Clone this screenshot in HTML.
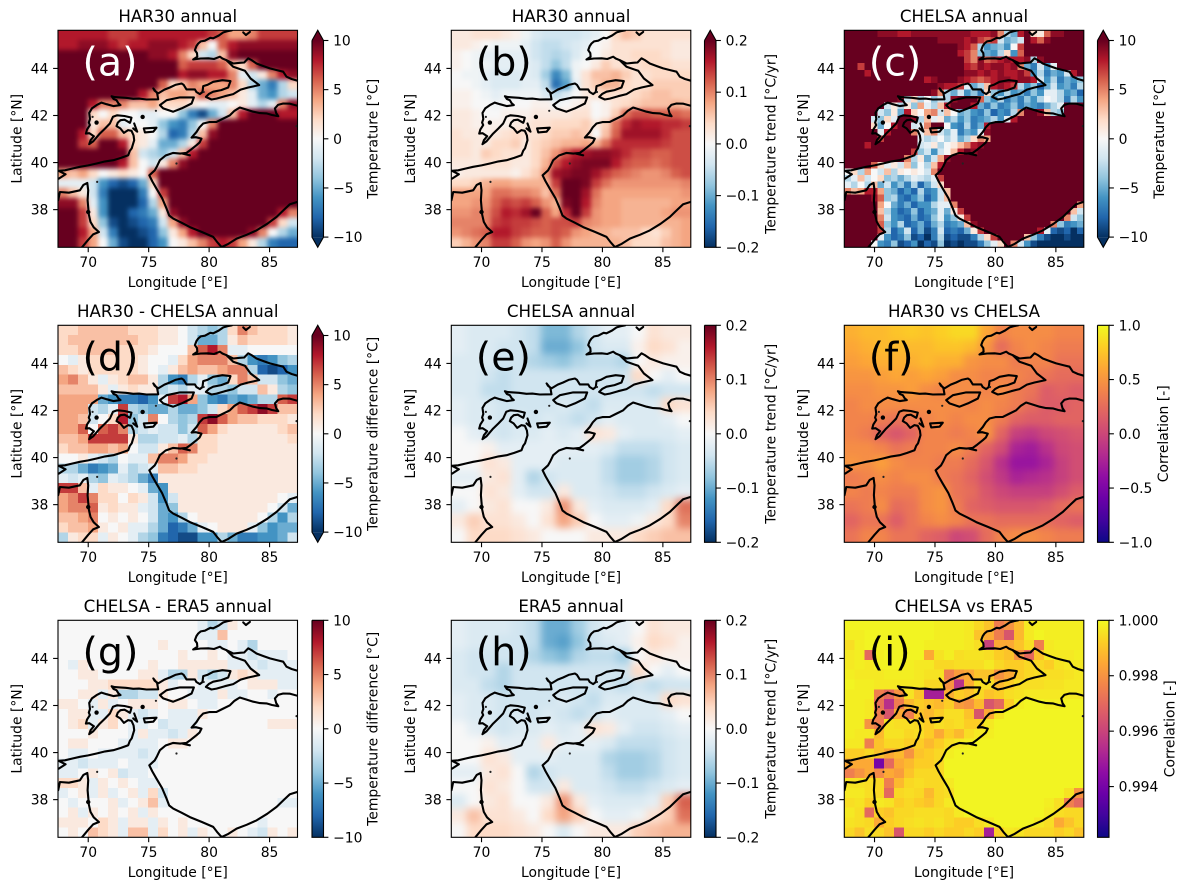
<!DOCTYPE html>
<html>
<head>
<meta charset="utf-8">
<title>Temperature maps</title>
<style>
html,body{margin:0;padding:0;background:#fff;}
svg{display:block;}
text{font-family:"DejaVu Sans","Liberation Sans",sans-serif;fill:#000;}
</style>
</head>
<body>
<svg id="figure" xmlns="http://www.w3.org/2000/svg" width="1187" height="890" viewBox="0 0 1187 890"></svg>
<script>
const lonTicks = [70, 75, 80, 85];
const latTicks = [38, 40, 42, 44];
const lonRange = [67.5, 87.31];
const latRange = [36.4, 45.62];

const tempTicks = [10, 5, 0, -5, -10];
const tempTickLabels = ['10', '5', '0', '−5', '−10'];
const trendTicks = [20, 10, 0, -10, -20];
const trendTickLabels = ['0.2', '0.1', '0.0', '−0.1', '−0.2'];
const corrTicks = [100, 50, 0, -50, -100];
const corrTickLabels = ['1.0', '0.5', '0.0', '−0.5', '−1.0'];
const deficitTicks = [0, 20, 40, 60];
const deficitTickLabels = ['1.000', '0.998', '0.996', '0.994'];

const har30Temp = [
[8,8,8,8,8,7,7,7,8,8,8,8,8,8,8,7,6,4,4,5,7,7,7,7],
[8,8,9,9,9,8,7,8,8,9,9,9,8,7,3,0,6,8,9,9,9,9,9,9],
[10,10,10,10,10,10,10,10,10,9,9,8,5,2,-2,-3,3,9,10,10,10,10,10,10],
[10,10,10,10,10,10,10,10,10,10,10,10,6,7,7,7,6,3,2,6,10,10,10,10],
[10,10,10,10,10,10,10,10,10,10,10,10,8,9,9,8,8,5,-1,-2,1,5,8,9],
[10,10,10,10,10,10,10,10,10,10,6,2,3,5,4,4,4,5,2,-3,-5,-7,-3,2],
[10,10,10,10,10,10,10,10,8,5,3,4,4,3,6,5,4,3,1,-1,-5,-6,-3,-2],
[10,10,10,8,5,5,5,3,3,4,2,2,2,1,0,-1,-1,0,1,-1,-3,-1,5,9],
[10,10,10,2,0,2,0,0,-1,-1,0,0,-4,-7,-9,-5,-2,3,8,10,10,10,8,8],
[10,10,10,1,3,3,-1,0,0,-1,-4,-6,-7,-4,0,5,10,10,10,10,10,10,10,10],
[10,10,8,2,6,6,3,2,1,0,-3,-8,-7,-3,3,9,10,10,10,10,10,10,10,10],
[10,10,7,6,10,10,8,2,1,-1,-5,-5,-3,1,7,10,10,10,10,10,10,10,10,10],
[10,10,10,10,10,10,10,3,-2,-3,-4,-2,3,8,10,10,10,10,10,10,10,10,10,10],
[10,10,10,10,10,10,8,3,0,-2,1,5,9,10,10,10,10,10,10,10,10,10,10,10],
[4,3,4,2,0,1,2,1,0,6,10,10,10,10,10,10,10,10,10,10,10,10,10,10],
[-1,-1,-1,-2,-6,-8,-9,-8,-5,2,10,10,10,10,10,10,10,10,10,10,10,10,10,10],
[5,3,1,-2,-7,-10,-10,-10,-7,0,7,10,10,10,10,10,10,10,10,10,10,10,10,10],
[9,9,5,-1,-6,-10,-10,-10,-8,-3,4,10,10,10,10,10,10,10,10,10,10,10,10,10],
[10,10,7,1,-6,-10,-10,-8,-7,-5,1,9,10,10,10,10,10,10,10,10,10,10,8,5],
[10,10,7,2,-4,-9,-10,-9,-8,-7,-2,4,9,10,10,10,10,10,10,10,10,7,2,-2],
[10,10,8,4,-2,-7,-10,-10,-9,-8,-4,1,4,8,10,10,10,10,10,9,5,0,-3,-5],
[10,10,7,4,0,-5,-9,-10,-10,-8,-6,0,1,3,5,7,8,7,4,1,-3,-7,-8,-8]
];

const har30Trend = [
[2,2,3,3,3,2,1,-1,-3,-4,-4,-4,-4,-3,-2,0,4,6,5,3,3,3,3,3],
[2,2,1,0,-1,-1,-1,-2,-4,-5,-5,-4,-3,-2,0,1,3,3,3,3,3,3,2,2],
[1,0,-1,-2,-2,-2,-2,-2,-4,-5,-6,-5,-3,-1,0,2,3,3,4,4,4,3,2,2],
[1,0,-1,-1,-2,-2,-2,-2,-3,-5,-8,-5,-1,0,2,5,3,3,3,4,4,4,3,3],
[0,-1,-1,-2,-3,-3,-3,-2,-3,-7,-13,-9,-1,3,6,6,7,5,3,3,4,4,4,4],
[0,0,-1,-2,-3,-3,-3,-2,-2,-5,-15,-11,-2,3,5,7,7,4,3,3,5,5,5,5],
[1,1,0,-1,-2,-1,-1,-1,-1,-3,-5,-3,0,2,3,4,3,3,4,5,6,6,5,5],
[1,1,0,0,-1,0,0,0,1,1,-1,0,1,2,0,1,3,4,5,6,6,6,7,6],
[2,2,1,0,0,1,1,1,2,2,2,2,3,3,0,1,5,11,13,13,12,12,12,11],
[2,2,1,1,1,1,2,2,3,3,4,4,4,5,2,5,11,15,17,16,16,15,15,14],
[3,2,2,1,2,3,4,3,3,4,5,5,6,5,0,6,12,17,17,17,17,15,13,13],
[3,3,2,2,4,4,5,2,4,5,6,7,7,8,7,11,15,15,15,15,15,14,13,13],
[3,3,2,5,4,3,3,2,4,6,9,13,16,17,18,18,17,15,13,13,12,12,13,13],
[2,2,2,3,3,3,2,2,4,7,13,16,18,19,19,19,16,13,12,12,11,12,13,13],
[1,2,2,2,2,2,1,3,5,9,17,18,19,19,17,14,12,11,10,9,9,10,12,13],
[4,4,5,7,8,8,7,7,7,7,14,20,21,19,14,11,9,9,9,9,9,9,9,10],
[8,8,8,8,11,11,10,10,9,6,11,20,22,17,11,8,8,8,8,8,8,8,8,9],
[8,8,9,9,12,14,13,14,12,9,7,19,22,16,10,8,8,7,7,7,7,7,8,8],
[9,9,10,10,13,16,15,17,20,12,8,15,20,14,9,8,8,7,7,7,7,8,9,9],
[10,10,10,10,14,15,14,14,13,12,13,13,14,10,9,8,8,7,7,7,7,7,7,8],
[9,10,11,12,16,16,14,13,12,12,13,12,9,8,7,7,6,6,6,4,3,5,7,8],
[5,7,9,10,14,14,12,9,8,9,12,9,7,7,7,7,7,6,4,4,4,6,7,8]
];

const chelsaTemp = [
[10,10,10,10,10,9,9,9,8,8,9,9,9,9,9,9,9,9,9,8,8,8,9,5,-3,-5,8,10,2,1,6,9,9,10,10,10],
[10,10,10,10,10,10,10,10,10,10,10,10,10,10,9,9,9,9,8,9,7,6,7,-2,-5,-4,-2,10,8,6,9,10,10,10,10,10],
[10,10,10,10,10,10,10,10,10,10,10,10,10,10,10,10,10,9,8,6,-3,-6,-5,-4,-6,0,7,10,10,10,10,10,10,10,10,10],
[10,10,10,10,10,10,10,10,10,10,10,10,10,10,10,10,10,8,7,5,-4,-5,-6,-3,2,-6,6,10,10,10,10,10,10,10,10,10],
[10,10,10,10,10,10,10,10,10,10,10,10,10,10,10,10,10,10,7,5,9,6,7,8,9,8,8,9,-3,9,10,10,10,10,10,10],
[10,10,7,10,10,10,10,10,10,10,10,10,10,10,10,10,10,10,8,7,9,8,9,9,8,9,5,-5,-7,-2,-6,-1,10,10,10,10],
[10,10,10,8,10,10,10,10,10,10,10,10,10,10,10,10,10,10,9,9,8,9,8,9,8,8,9,7,-6,-3,-7,-5,-6,-2,8,10],
[10,10,10,10,10,10,10,10,10,10,10,10,8,9,10,10,10,9,8,7,6,7,8,9,9,8,9,9,8,-2,-6,-3,-7,-5,-6,-4],
[10,10,10,10,10,10,10,10,10,10,10,10,10,10,9,8,8,7,-1,-5,-3,3,8,9,8,7,-3,-6,-4,-8,-5,-2,-6,-5,-7,-3],
[10,10,10,10,10,10,10,10,10,10,10,10,10,9,5,-3,-5,-2,-6,-4,-7,2,-4,-6,-3,-6,-5,-7,-4,-6,-1,-1,-3,-6,-5,-8],
[10,10,10,10,10,10,10,10,9,-2,2,-3,0,-4,-2,-3,9,10,10,10,6,-4,-6,-3,-7,-5,-7,-4,-6,-3,0,-1,-3,-7,-3,-6],
[10,10,10,10,10,10,-2,1,-3,1,-4,4,-1,-3,3,8,10,10,10,8,-5,-7,-4,-7,-6,-4,-7,-5,-6,-7,-5,-3,-1,10,10,10],
[10,10,10,10,10,-2,-4,1,-5,8,2,0,4,5,-2,3,0,-5,-4,-6,-7,-4,-8,-6,-7,-3,5,10,10,9,3,-3,-4,10,10,10],
[10,10,10,10,-2,-4,2,-1,10,10,9,-3,3,-1,1,-5,-3,-6,-4,-7,-6,-5,-3,-6,-1,8,10,10,10,10,10,10,10,10,10,10],
[10,10,10,10,2,-5,0,8,10,10,-2,-1,5,10,10,0,-6,-7,-3,-7,-5,8,10,10,10,10,10,10,10,10,10,10,10,10,10,10],
[10,10,10,10,10,-1,8,10,10,10,5,-1,3,5,-2,-4,-1,-7,-5,-6,-1,9,10,10,10,10,10,10,10,10,10,10,10,10,10,10],
[10,10,10,10,10,7,10,10,10,10,10,-1,-3,-2,0,-3,-1,-5,-3,2,5,4,10,10,10,10,10,10,10,10,10,10,10,10,10,10],
[10,10,10,8,10,10,10,10,10,10,10,-2,-1,1,-3,0,1,3,5,8,9,10,10,10,10,10,10,10,10,10,10,10,10,10,10,10],
[10,10,10,10,10,10,10,10,10,10,7,-4,-2,-6,-2,0,3,8,10,9,10,10,10,10,10,10,10,10,10,10,10,10,10,10,10,10],
[10,10,10,10,10,10,10,10,10,5,-3,1,-5,-2,4,9,10,10,10,10,10,10,10,10,10,10,10,10,10,10,10,10,10,10,10,10],
[10,10,10,10,6,2,-1,1,-2,3,-4,0,-3,3,8,10,10,10,10,10,10,10,10,10,10,10,10,10,10,10,10,10,10,10,10,10],
[0,2,-3,4,0,-2,3,-3,1,0,1,0,-2,5,10,10,10,10,10,10,10,10,10,10,10,10,10,10,10,10,10,10,10,10,10,10],
[-3,-1,3,-2,0,2,-4,-3,-5,-3,-1,-2,-3,-1,7,10,10,10,10,10,10,10,10,10,10,10,10,10,10,10,10,10,10,10,10,10],
[-1,-3,0,-3,3,-5,-2,-6,-4,-7,-3,-8,-5,-2,2,10,10,10,10,10,10,10,10,10,10,10,10,10,10,10,10,10,10,10,10,10],
[5,3,4,8,8,4,-4,-5,-8,-6,-8,-3,-7,-6,-2,3,10,10,10,10,10,10,10,10,10,10,10,10,10,10,10,10,10,10,10,10],
[10,10,10,10,9,6,-4,-3,-7,-8,-6,-4,-8,-6,-2,3,10,10,10,10,10,10,10,10,10,10,10,10,10,10,10,10,10,10,10,10],
[10,10,10,10,10,4,0,-5,-7,-5,-8,-6,-6,-3,-1,-1,5,10,10,10,10,10,10,10,10,10,10,10,10,10,10,10,10,10,10,4],
[10,10,10,10,10,3,-3,-6,-8,-7,-4,-8,-6,-5,-1,-5,1,7,10,10,10,10,10,10,10,10,10,10,10,10,10,10,10,10,3,-2],
[10,10,10,10,10,5,-2,-6,-7,-8,-5,-8,-7,-4,-1,-6,-4,1,7,10,10,10,10,10,10,10,10,10,10,10,10,10,10,5,-2,-4],
[10,10,10,10,10,6,-4,-6,-3,-8,-7,-5,-8,-5,-3,-7,-6,-5,3,9,10,10,10,10,10,10,10,10,10,10,10,5,-4,-7,-6,-5],
[10,10,10,10,10,7,-3,-8,-6,-2,-8,-5,-9,-7,-2,-8,-7,-8,-5,1,7,10,10,10,10,10,10,10,10,8,-1,-8,-9,-8,-10,-8],
[10,10,10,10,10,-1,-6,-8,-7,-4,-9,-8,-10,-7,-3,-9,-8,-9,-9,-7,-3,2,7,10,10,10,10,3,-4,-7,-9,-10,-10,-9,-10,-10],
[10,10,10,10,0,-6,-7,-4,-9,-8,-6,-10,-8,-9,-4,-10,-9,-10,-9,-9,-7,-4,-1,2,10,5,-2,-6,-9,-10,-10,-10,-10,-10,-10,-10]
];

const har30MinusChelsa = [
[2,2,3,3,3,3,3,2,2,2,1,1,0,-2,-3,-4,-3,2,5,3,2,2,2,1],
[2,3,3,3,3,3,3,3,2,2,1,1,0,-2,-5,-5,-3,1,3,2,2,2,2,1],
[2,2,3,3,3,3,2,2,2,1,0,0,0,3,6,8,5,-1,-1,0,0,0,0,0],
[0,-1,1,2,2,2,2,2,1,0,0,-1,2,4,5,5,5,3,-3,-6,-7,-6,-4,-3],
[3,2,1,2,2,2,2,2,1,0,-1,1,3,4,3,3,4,5,5,-3,-8,-9,-8,-6],
[4,5,3,1,-1,1,2,3,3,1,-3,-6,-7,-3,-1,-4,-5,2,5,3,-2,-2,-4,-5],
[3,3,3,3,1,-1,1,2,1,1,-3,-2,-3,-1,-1,-3,-3,-4,-2,-2,3,1,-3,-4],
[4,4,4,4,-5,-6,-7,-7,-8,-6,-1,7,8,4,-4,-6,-7,-5,-6,-5,-3,-3,6,7],
[4,4,4,-2,-3,-1,7,-3,-4,-5,-5,-3,-5,-5,-4,-2,2,4,6,7,9,7,3,3],
[4,4,3,-2,0,2,8,-4,-2,5,0,-3,-4,-3,7,9,6,4,3,3,2,2,2,1],
[4,4,6,0,6,7,5,-3,-2,-1,-2,-2,-4,-2,6,4,2,1,1,1,1,1,2,3],
[3,3,4,7,7,7,7,1,-3,-3,-2,-2,-1,-3,2,2,1,1,1,1,1,1,1,2],
[2,3,3,4,4,3,4,0,-2,-2,1,3,6,5,2,2,1,1,1,1,1,1,1,1],
[0,0,1,-1,-2,-3,0,-1,-1,3,5,5,4,2,2,1,1,1,1,1,1,1,1,1],
[-3,-3,-5,-7,-6,-5,-1,-3,-2,-1,3,3,2,2,1,1,1,1,1,1,1,1,1,1],
[-1,-2,-1,-3,-4,-1,-2,-3,-5,-7,1,1,1,1,1,1,1,1,1,1,1,1,1,1],
[7,7,3,-1,2,1,1,0,-1,-5,-6,1,1,1,1,1,1,1,1,1,1,1,1,1],
[4,5,7,5,2,2,0,2,1,-2,-6,-2,1,1,1,1,1,1,1,1,1,1,0,-1],
[4,5,5,6,1,2,1,1,-1,-2,-5,-4,1,1,1,1,1,1,1,1,1,0,-2,-5],
[3,3,4,5,0,1,0,1,0,-2,-5,-6,-3,0,1,1,1,1,1,1,0,-3,-6,-3],
[2,3,3,4,1,0,1,-1,-1,-3,-5,-8,-7,-5,-1,0,1,1,1,-1,-4,-6,-5,-5],
[-3,1,2,2,-1,1,0,-1,-3,-4,-7,-8,-9,-9,-6,-6,-3,-5,-7,-7,-6,-6,-5,-2]
];

const chelsaTrend = [
[-2,-3,-3,-3,-4,-5,-9,-9,-6,-4,-2,-2,0,3,2,2],
[-2,-3,-3,-4,-4,-5,-10,-10,-8,-4,-3,-3,1,4,3,1],
[-3,-3,-3,-4,-4,-6,-7,-8,-6,-5,-5,-6,0,2,1,1],
[-3,-3,-4,-5,-4,-4,-4,-4,-4,-4,-4,-4,4,0,-2,0],
[-3,-3,-5,-5,-4,-4,-4,-4,-4,-4,-4,-4,-4,-5,-4,-4],
[-2,-3,-3,-4,-4,-4,-4,-3,-4,-5,-3,-3,-3,-3,4,3],
[-2,-3,-3,-4,-3,-4,-3,-4,-5,-4,-2,-3,-3,-3,-2,0],
[0,-2,-3,-4,-3,-3,-2,-3,-2,3,2,-2,-3,-3,-3,-2],
[0,0,1,-2,-2,-2,-2,-2,-2,-2,-3,-5,-5,-5,-4,-3],
[0,0,3,2,-2,-2,-2,-3,-3,-3,-5,-7,-7,-6,-4,-3],
[-2,-2,2,3,-2,-6,-4,-3,-3,-3,-5,-7,-7,-6,-4,-3],
[0,0,3,2,-2,-4,-4,2,-3,-3,-4,-5,-5,-4,-3,-2],
[-2,0,2,3,0,0,2,9,2,-2,-3,-3,-3,-2,4,11],
[2,5,3,3,2,0,3,8,5,0,-2,-2,-1,2,4,10],
[0,4,4,4,3,2,0,0,0,2,2,2,4,5,6,6]
];

const har30ChelsaCorr = [
[65,70,70,75,78,75,80,85,85,60,40,45,45,45,40,40],
[60,65,70,70,70,70,75,75,70,50,25,40,45,40,35,35],
[55,60,65,65,65,70,65,65,50,45,45,35,40,40,30,30],
[50,50,55,60,55,60,55,45,45,40,40,40,35,30,25,25],
[45,45,50,50,55,45,40,45,45,40,45,35,30,15,20,15],
[40,45,45,45,45,45,45,45,40,45,40,35,25,15,15,20],
[40,40,35,30,35,40,45,40,45,45,35,20,15,15,20,20],
[40,35,20,10,20,40,40,35,40,50,20,-5,-10,0,5,10],
[45,45,40,30,35,40,40,45,35,20,5,-25,-30,-15,0,5],
[50,45,55,45,40,40,35,35,25,10,-15,-35,-35,-25,-5,5],
[35,40,45,40,45,45,35,30,20,5,-10,-25,-20,-15,-5,5],
[40,35,40,35,35,45,50,30,25,10,0,-5,-5,-5,5,15],
[30,35,45,25,30,45,50,35,20,15,10,10,10,15,25,30],
[20,30,30,15,30,40,45,40,30,30,25,25,25,25,20,15],
[30,40,40,30,30,20,15,0,5,25,40,45,45,40,35,35]
];

const chelsaMinusEra5 = [
[0,0,0,0,0,0,0,0,0,0,0,0,0,0,-1,-3,-2,1,0,0,0,0,0,0],
[0,0,0,0,0,0,0,0,0,0,0,0,0,0,-1,-1,3,0,0,0,0,0,0,0],
[0,0,0,0,0,0,0,0,0,0,1,0,0,0,0,-1,-1,0,-1,-3,0,0,0,0],
[0,0,0,0,0,0,0,0,0,0,0,0,1,0,0,1,0,-1,-1,-2,-1,-1,-1,0],
[0,-1,1,0,0,0,0,0,0,1,0,0,1,1,1,1,1,-1,-1,-1,-2,-1,-1,-1],
[0,0,1,1,0,0,0,0,1,1,-1,-3,-3,1,-2,-3,-2,1,2,1,-1,-1,-1,-1],
[0,0,0,1,1,2,2,2,2,2,1,-1,0,0,-1,-1,-1,-1,0,1,1,1,-1,-1],
[0,0,1,1,-1,1,-3,-3,-2,-2,1,0,0,-1,-1,-1,1,-1,-1,0,0,-1,0,0],
[1,1,0,-1,1,-1,0,1,1,1,0,1,1,0,-1,-1,0,0,0,0,0,0,0,0],
[0,1,1,-1,-1,2,1,-1,-2,-1,0,-1,-1,-1,1,0,0,0,0,0,0,0,0,0],
[0,1,2,-1,1,2,0,-1,-1,0,-2,-1,-1,-1,0,0,0,0,0,0,0,1,1,1],
[0,0,0,1,0,0,0,-1,1,-1,-1,-2,-1,1,0,0,0,0,0,0,0,0,0,0],
[0,1,1,0,0,0,-1,-1,-1,-1,0,1,1,0,0,0,0,0,0,0,0,0,0,0],
[0,-1,-1,0,-1,-1,-1,-1,-2,-1,0,0,0,0,0,0,0,0,0,0,0,0,0,0],
[-1,-1,-2,-1,-1,-1,0,-1,-1,-1,0,0,0,0,0,0,0,0,0,0,0,0,0,0],
[-1,-1,0,1,0,1,-2,-1,-1,0,0,0,0,0,0,0,0,0,0,0,0,0,0,0],
[2,2,1,-1,1,0,1,0,-1,-1,0,0,0,0,0,0,0,0,0,0,0,0,0,0],
[-1,0,1,-1,1,-1,0,1,-1,2,-2,0,0,0,0,0,0,0,0,0,0,0,0,0],
[0,-1,0,0,0,1,-1,0,1,3,-1,0,0,0,0,0,0,0,0,0,0,0,-1,-1],
[0,1,-1,1,0,1,0,1,-1,1,0,0,0,0,0,0,0,0,0,0,0,0,0,0],
[1,1,1,0,2,1,-1,1,1,-1,1,0,1,0,0,0,0,0,0,0,-1,0,0,0],
[0,1,0,3,2,1,-1,3,3,-1,2,0,1,-1,1,0,0,1,0,-1,-2,1,0,1]
];

const era5Trend = [
[-2,-3,-3,-3,-4,-5,-10,-10,-7,-4,-2,-2,0,3,2,2],
[-2,-3,-3,-4,-4,-5,-10,-11,-8,-4,-3,-2,1,4,3,1],
[-3,-4,-4,-4,-4,-6,-8,-9,-6,-5,-5,-7,0,2,1,1],
[-3,-4,-4,-6,-4,-4,-4,-4,-4,-4,-4,-4,4,0,-2,0],
[-3,-3,-5,-6,-4,-4,-4,-4,-4,-4,-4,-5,-4,-5,-4,-4],
[-2,-3,-3,-4,-4,-4,-4,-3,-4,-5,-3,-3,-3,-3,4,3],
[-2,-3,-3,-4,-3,-4,-3,-4,-5,-4,-2,-3,-3,-3,-2,0],
[0,-2,-3,-4,-3,-3,-2,-3,-2,3,2,-2,-4,-4,-3,-2],
[0,0,1,-2,-2,-2,2,-2,-2,-2,-3,-5,-5,-5,-4,-3],
[0,0,3,2,-2,-2,-2,-3,-3,-3,-6,-7,-7,-6,-4,-3],
[-2,-2,2,3,0,-6,-4,-3,-3,-3,-5,-7,-7,-6,-4,-3],
[0,0,3,2,0,-4,-4,2,-3,-3,-4,-5,-5,-4,-3,-2],
[-3,0,2,3,0,0,2,9,2,-2,-3,-3,-3,-2,5,12],
[2,6,3,3,2,0,4,8,5,0,-2,-2,-1,3,5,11],
[0,4,4,4,3,2,0,-3,0,2,2,2,5,6,7,7]
];

const chelsaEra5Deficit = [
[1,1,1,1,1,1,1,1,1,2,2,2,3,6,10,25,20,12,3,2,2,2,2,2],
[2,2,1,1,1,1,1,1,1,2,2,2,3,10,15,25,35,12,3,1,2,2,2,2],
[5,2,1,1,1,1,1,1,2,2,2,2,3,5,40,15,15,10,5,25,3,2,2,2],
[3,2,30,2,1,1,1,1,15,4,2,5,4,4,5,8,10,20,30,10,3,3,3,2],
[3,2,3,1,1,1,2,3,3,6,6,5,5,5,3,6,8,8,6,6,8,4,3,3],
[2,3,3,3,2,2,2,3,4,4,25,18,15,10,10,20,15,8,6,5,5,5,4,3],
[1,2,2,3,3,3,3,3,6,6,20,45,14,5,5,12,8,5,5,5,4,4,3,3],
[2,2,2,25,30,20,4,10,50,50,14,8,10,6,10,8,5,4,3,3,3,3,3,3],
[2,2,3,28,45,25,12,8,10,12,8,18,20,12,35,30,8,2,1,1,2,2,1,1],
[2,2,3,25,35,15,25,10,12,8,5,5,10,35,15,4,1,1,1,1,1,1,1,1],
[2,2,20,25,4,5,5,6,8,5,6,5,8,8,3,1,1,1,1,1,1,1,1,1],
[2,3,3,12,4,4,6,5,8,15,8,12,5,3,2,1,1,1,1,1,1,1,1,1],
[3,3,25,10,6,6,8,8,12,8,5,3,2,1,1,1,1,1,1,1,1,1,1,1],
[8,8,6,10,15,12,20,10,8,6,2,1,1,1,1,1,1,1,1,1,1,1,1,1],
[15,15,15,60,30,15,12,8,8,6,1,1,1,1,1,1,1,1,1,1,1,1,1,1],
[25,20,15,22,15,18,10,6,6,6,1,1,1,1,1,1,1,1,1,1,1,1,1,1],
[4,4,5,6,25,12,6,5,6,6,3,1,1,1,1,1,1,1,1,1,1,1,1,1],
[3,3,5,6,30,6,5,6,12,6,5,1,1,1,1,1,1,1,1,1,1,1,4,20],
[5,4,8,3,4,8,6,8,10,6,3,1,1,1,1,1,1,1,1,1,2,5,25,30],
[3,5,30,8,10,6,6,5,5,5,6,3,1,1,1,1,1,1,1,1,3,5,6,6],
[4,5,6,15,8,6,5,4,5,4,6,8,8,5,3,1,1,1,1,3,5,15,10,6],
[6,10,5,6,10,35,6,6,8,6,8,8,6,8,50,8,3,4,6,6,6,8,6,10]
];

const coastNorth = [[81.88,45.62],[81.5,45.58],[81.17,45.53],[80.8,45.4],[80.34,45.28],[80.1,45.3],[79.65,45.18],[79.3,45.15],[79.10,45.06],[78.95,44.95],[78.82,44.78],[79.0,44.65],[79.02,44.50],[78.68,44.38],[79.3,44.42],[79.93,44.43],[80.4,44.4],[80.89,44.50],[81.1,44.42],[81.44,44.35],[81.99,44.21],[82.54,44.24],[82.9,44.25],[83.23,44.43],[83.5,44.36],[83.92,44.21],[84.5,44.1],[85.03,44.0],[85.6,43.93],[86.13,43.86],[86.4,43.65],[86.82,43.55],[87.31,43.48]];
const coastInner = [[81.44,44.35],[81.99,44.07],[82.96,43.90],[83.43,43.57],[84.14,43.29],[83.23,43.19],[82.6,43.1],[81.99,42.91],[81.3,42.82],[80.61,42.72],[80.2,42.68],[79.73,42.79],[80.0,42.92],[80.34,43.01],[81.0,43.08],[81.58,43.19],[81.77,43.46],[81.1,43.5],[80.34,43.43],[79.85,43.3],[79.51,43.25],[79.45,43.0],[79.24,42.91],[78.95,43.0],[78.82,43.11],[78.13,43.11],[77.9,43.3],[77.72,43.36],[77.2,43.3],[76.75,43.19],[76.3,43.1],[75.79,42.94],[75.5,43.05],[75.38,43.15],[75.7,42.95],[75.79,42.69],[74.82,42.68],[74.2,42.72],[73.72,42.71],[73.1,42.75],[72.62,42.77],[72.2,42.78],[71.93,42.82],[72.1,42.7],[72.34,42.65],[72.5,42.52],[72.67,42.44],[72.1,42.4],[71.52,42.48],[71.1,42.55],[70.69,42.44],[70.3,42.3],[70.08,42.11],[70.15,41.85],[70.05,41.7],[70.14,41.59],[69.9,41.4],[69.81,41.23],[70.1,41.25],[70.47,41.12],[70.2,40.95],[70.08,40.78],[70.4,40.9],[70.96,41.23],[71.4,41.45],[71.79,41.66],[72.05,41.95],[72.40,42.01],[73.0,41.98],[73.58,41.91],[73.5,41.75],[73.45,41.69],[73.0,41.82],[72.67,41.80],[72.45,41.7],[72.34,41.55],[72.65,41.45],[72.95,41.26],[73.3,41.38],[73.58,41.35],[73.75,41.15],[73.80,40.95],[73.6,40.6],[73.45,40.5],[73.31,40.31],[72.7,40.2],[72.07,40.10],[71.4,40.05],[70.69,39.96],[70,39.88],[69.31,39.82],[68.7,39.75],[68.07,39.67],[67.55,39.65],[68.13,39.50],[67.57,39.32]];
const coastSouthWest = [[67.52,38.40],[67.66,38.75],[68.4,38.72],[69.31,38.82],[69.6,39.05],[69.92,39.13],[70.0,38.82],[69.95,38.4],[70.0,38.11],[70.05,37.8],[70.19,37.48],[70.45,37.25],[70.88,37.05],[70.4,36.95],[70.0,36.72],[69.45,36.38]];
const coastTarim = [[87.31,42.41],[86.7,42.5],[86.13,42.51],[85.7,42.45],[85.44,42.30],[85.55,42.1],[85.72,41.97],[85.2,42.02],[84.75,42.09],[84.2,42.1],[83.65,42.16],[83.1,42.25],[82.54,42.34],[82.1,42.2],[81.72,42.01],[81.1,41.85],[80.61,41.73],[80.0,41.72],[79.51,41.66],[79.2,41.5],[78.96,41.30],[78.55,41.06],[78.9,41.08],[79.37,41.02],[79.2,40.85],[78.96,40.74],[78.5,40.55],[78.13,40.41],[77.6,40.38],[77.03,40.41],[76.4,40.3],[75.93,40.10],[75.7,39.85],[75.51,39.67],[75.05,39.46],[75.3,39.2],[75.65,38.89],[76.1,38.5],[76.48,38.04],[76.7,37.75],[77.03,37.62],[77.7,37.45],[78.41,37.26],[79.4,37.05],[80.34,36.84],[80.7,36.6],[81.03,36.41],[81.6,36.55],[82.27,36.77],[83.1,36.93],[83.92,37.12],[84.8,37.4],[85.58,37.69],[86.2,38.0],[86.68,38.23],[87.31,38.33]];
const coastLake = [[75.93,42.44],[76.48,42.65],[77.58,42.77],[78.74,42.77],[78.55,42.51],[77.72,42.30],[77.03,42.16],[76.2,42.3],[75.93,42.44]];
const coastLoop = [[74.60,41.45],[75.65,41.48],[75.38,41.31],[74.69,41.28],[74.60,41.45]];
const coastHook = [[73.8,41.66],[74.05,41.31],[73.72,41.45]];
const coastTop = [[82.82,45.53],[83.04,45.42],[83.37,45.55]];
const coastDash = [[77.8,40.38],[78.41,40.31]];
const coastBlobs = [[70.69,41.70],[74.5,41.94],[70,37.9]];
const coastSpecks = [[75.6,42.2],[70.36,41.94],[77.3,39.96],[87.23,41.55],[70.74,39.18],[79.55,43.0]];

const rdbuStops = ['#053061','#2166ac','#4393c3','#92c5de','#d1e5f0','#f7f7f7','#fddbc7','#f4a582','#d6604d','#b2182b','#67001f'];
const plasmaStops = ['#0d0887','#41049d','#6a00a8','#8f0da4','#b12a90','#cc4778','#e16462','#f2844b','#fca636','#fcce25','#f0f921'];

const NS = 'http://www.w3.org/2000/svg';
const svg = document.getElementById('figure');
const AXES_W = 239.5;
const AXES_H = 217;
const colX = [58, 451.3, 844.3];
const rowY = [30.3, 325.3, 620.3];
const barX = [312, 704.5, 1097.5];
const BAR_W = 11.5;
const EXT = 10.2;

function el(tag, parent, name, interactable) {
  const node = document.createElementNS(NS, tag);
  
  
  parent.appendChild(node);
  return node;
}
function attrs(node, map) {
  for (const k in map) node.setAttribute(k, map[k]);
  return node;
}
function label(parent, name, str, x, y, size, anchor, fill) {
  const t = el('text', parent, name, false);
  attrs(t, {x: x, y: y, 'font-size': size, 'text-anchor': anchor});
  if (fill) t.style.fill = fill;
  t.textContent = str;
  return t;
}
function hexToRgb(h) {
  return [parseInt(h.slice(1,3),16), parseInt(h.slice(3,5),16), parseInt(h.slice(5,7),16)];
}
function colorAt(stops, t) {
  const c = Math.max(0, Math.min(1, t)) * (stops.length - 1);
  const i = Math.min(stops.length - 2, Math.floor(c));
  const f = c - i;
  const a = hexToRgb(stops[i]), b = hexToRgb(stops[i + 1]);
  return 'rgb(' + [0,1,2].map(function (k) { return Math.round(a[k] + (b[k] - a[k]) * f); }).join(',') + ')';
}

const defs = el('defs', svg, 'definitions', false);
function addGradient(id, stops) {
  const g = el('linearGradient', defs, id, false);
  attrs(g, {id: id, x1: 0, y1: 1, x2: 0, y2: 0});
  stops.forEach(function (c, i) {
    const s = el('stop', g, 'gradient-stop', false);
    attrs(s, {offset: i / (stops.length - 1), 'stop-color': c});
  });
}
addGradient('grad-rdbu', rdbuStops);
addGradient('grad-plasma', plasmaStops);
function addBlur(id, sd) {
  const f = el('filter', defs, id, false);
  attrs(f, {id: id, filterUnits: 'userSpaceOnUse', x: 0, y: 0, width: 1187, height: 890, 'color-interpolation-filters': 'sRGB'});
  const b = el('feGaussianBlur', f, 'blur', false);
  b.setAttribute('stdDeviation', sd);
}
addBlur('blur-m', 2.4);
addBlur('blur-l', 4);

const coastLines = [coastNorth, coastInner, coastSouthWest, coastTarim, coastLake, coastLoop, coastHook, coastTop, coastDash];

function drawPanel(p, idx) {
  const x0 = colX[p.col], y0 = rowY[p.row];
  const xScale = function (lon) { return x0 + (lon - lonRange[0]) / (lonRange[1] - lonRange[0]) * AXES_W; };
  const yScale = function (lat) { return y0 + (latRange[1] - lat) / (latRange[1] - latRange[0]) * AXES_H; };
  const colorScale = function (v) { return colorAt(p.stops, (v - p.vmin) / (p.vmax - p.vmin)); };
  const panel = el('g', svg, 'panel-' + p.letter, false);

  const clip = el('clipPath', defs, 'axes-clip', false);
  clip.setAttribute('id', 'clip-' + idx);
  attrs(el('rect', clip, 'axes-clip-rect', false), {x: x0, y: y0, width: AXES_W, height: AXES_H});

  const clipped = el('g', panel, 'map-area', false);
  clipped.setAttribute('clip-path', 'url(#clip-' + idx + ')');
  const cells = el('g', clipped, 'heatmap', false);
  if (p.blur) cells.setAttribute('filter', 'url(#' + p.blur + ')');
  const rows = p.grid.length;
  const dLat = (latRange[1] - latRange[0]) / rows;
  p.grid.forEach(function (rowVals, r) {
    const dLon = (lonRange[1] - lonRange[0]) / rowVals.length;
    rowVals.forEach(function (v, c) {
      const cell = el('rect', cells, 'heatmap-cell', false);
      let cx = xScale(lonRange[0] + c * dLon);
      let cw = xScale(lonRange[0] + (c + 1) * dLon) - cx + 0.6;
      let cy = yScale(latRange[1] - r * dLat);
      let ch = yScale(latRange[1] - (r + 1) * dLat) - cy + 0.6;
      if (c === 0) { cx -= 25; cw += 25; }
      if (c === rowVals.length - 1) { cw += 25; }
      if (r === 0) { cy -= 25; ch += 25; }
      if (r === rows - 1) { ch += 25; }
      attrs(cell, {x: cx.toFixed(2), y: cy.toFixed(2), width: cw.toFixed(2), height: ch.toFixed(2), fill: colorScale(v), 'shape-rendering': 'crispEdges'});
    });
  });

  coastLines.forEach(function (line) {
    const pl = el('polyline', clipped, 'coastline', false);
    attrs(pl, {
      points: line.map(function (pt) { return xScale(pt[0]).toFixed(1) + ',' + yScale(pt[1]).toFixed(1); }).join(' '),
      fill: 'none', stroke: '#000', 'stroke-width': 2.1, 'stroke-linejoin': 'round', 'stroke-linecap': 'round'
    });
  });
  coastBlobs.forEach(function (pt) {
    const c = el('circle', clipped, 'coastline-islet', false);
    attrs(c, {cx: xScale(pt[0]), cy: yScale(pt[1]), r: 2.2, fill: '#000'});
  });
  coastSpecks.forEach(function (pt) {
    const c = el('circle', clipped, 'coastline-speck', false);
    attrs(c, {cx: xScale(pt[0]), cy: yScale(pt[1]), r: 1.1, fill: '#222'});
  });

  attrs(el('rect', panel, 'axes-frame', false), {x: x0, y: y0, width: AXES_W, height: AXES_H, fill: 'none', stroke: '#000', 'stroke-width': 1.1});

  lonTicks.forEach(function (t) {
    const xx = xScale(t);
    attrs(el('line', panel, 'x-tick', false), {x1: xx, x2: xx, y1: y0 + AXES_H, y2: y0 + AXES_H + 4.9, stroke: '#000', 'stroke-width': 1.1});
    label(panel, 'x-tick-label', String(t), xx, y0 + AXES_H + 19.5, 13.9, 'middle');
  });
  latTicks.forEach(function (t) {
    const yy = yScale(t);
    attrs(el('line', panel, 'y-tick', false), {x1: x0 - 4.9, x2: x0, y1: yy, y2: yy, stroke: '#000', 'stroke-width': 1.1});
    label(panel, 'y-tick-label', String(t), x0 - 9.6, yy + 5, 13.9, 'end');
  });

  label(panel, 'x-axis-title', 'Longitude [°E]', x0 + AXES_W / 2, y0 + AXES_H + 39.5, 13.9, 'middle');
  const yt = label(panel, 'y-axis-title', 'Latitude [°N]', 0, 0, 13.9, 'middle');
  yt.setAttribute('transform', 'translate(' + (x0 - 36.5) + ',' + (y0 + AXES_H / 2) + ') rotate(-90)');
  label(panel, 'panel-title', p.title, x0 + AXES_W / 2, y0 - 8.5, 16.67, 'middle');
  label(panel, 'panel-letter', '(' + p.letter + ')', x0 + 24.5, y0 + 45, 39.5, 'start', p.letterFill);

  const bx = barX[p.col];
  const barTop = y0 + (p.extHigh ? EXT : 0);
  const barBot = y0 + AXES_H - (p.extLow ? EXT : 0);
  const barScale = function (v) { return barBot - (v - p.vmin) / (p.vmax - p.vmin) * (barBot - barTop); };
  const bar = el('g', panel, 'colorbar', false);
  attrs(el('rect', bar, 'colorbar-gradient', false), {x: bx, y: barTop, width: BAR_W, height: barBot - barTop, fill: 'url(#' + p.grad + ')'});
  if (p.extHigh) {
    attrs(el('polygon', bar, 'colorbar-extend-high', false), {points: bx + ',' + barTop + ' ' + (bx + BAR_W) + ',' + barTop + ' ' + (bx + BAR_W / 2) + ',' + y0, fill: colorAt(p.stops, 1)});
  }
  if (p.extLow) {
    attrs(el('polygon', bar, 'colorbar-extend-low', false), {points: bx + ',' + barBot + ' ' + (bx + BAR_W) + ',' + barBot + ' ' + (bx + BAR_W / 2) + ',' + (y0 + AXES_H), fill: colorAt(p.stops, 0)});
  }
  let outline = '';
  outline += bx + ',' + barTop + ' ';
  if (p.extHigh) outline += (bx + BAR_W / 2) + ',' + y0 + ' ';
  outline += (bx + BAR_W) + ',' + barTop + ' ' + (bx + BAR_W) + ',' + barBot + ' ';
  if (p.extLow) outline += (bx + BAR_W / 2) + ',' + (y0 + AXES_H) + ' ';
  outline += bx + ',' + barBot + ' ' + bx + ',' + barTop;
  attrs(el('polyline', bar, 'colorbar-outline', false), {points: outline, fill: 'none', stroke: '#000', 'stroke-width': 1.1});

  p.ticks.forEach(function (t, i) {
    const yy = barScale(t);
    attrs(el('line', bar, 'colorbar-tick', false), {x1: bx + BAR_W, x2: bx + BAR_W + 4.9, y1: yy, y2: yy, stroke: '#000', 'stroke-width': 1.1});
    label(bar, 'colorbar-tick-label', p.tickLabels[i], bx + BAR_W + 9.6, yy + 5, 13.9, 'start');
  });
  const cl = label(bar, 'colorbar-title', p.barLabel, 0, 0, 13.9, 'middle');
  cl.setAttribute('transform', 'translate(' + p.barLabelX + ',' + ((barTop + barBot) / 2) + ') rotate(-90)');
}

const panels = [
  {letter:'a', col:0, row:0, title:'HAR30 annual', grid:har30Temp, stops:rdbuStops, grad:'grad-rdbu', vmin:-10, vmax:10, ticks:tempTicks, tickLabels:tempTickLabels, barLabel:'Temperature [°C]', barLabelX:377.5, extHigh:true, extLow:true, blur:'blur-m', letterFill:'#fff'},
  {letter:'b', col:1, row:0, title:'HAR30 annual', grid:har30Trend, stops:rdbuStops, grad:'grad-rdbu', vmin:-20, vmax:20, ticks:trendTicks, tickLabels:trendTickLabels, barLabel:'Temperature trend [°C/yr]', barLabelX:775.5, extHigh:true, extLow:false, blur:'blur-m'},
  {letter:'c', col:2, row:0, title:'CHELSA annual', grid:chelsaTemp, stops:rdbuStops, grad:'grad-rdbu', vmin:-10, vmax:10, ticks:tempTicks, tickLabels:tempTickLabels, barLabel:'Temperature [°C]', barLabelX:1164, extHigh:true, extLow:true, letterFill:'#fff'},
  {letter:'d', col:0, row:1, title:'HAR30 - CHELSA annual', grid:har30MinusChelsa, stops:rdbuStops, grad:'grad-rdbu', vmin:-10, vmax:10, ticks:tempTicks, tickLabels:tempTickLabels, barLabel:'Temperature difference [°C]', barLabelX:377.5, extHigh:true, extLow:true},
  {letter:'e', col:1, row:1, title:'CHELSA annual', grid:chelsaTrend, stops:rdbuStops, grad:'grad-rdbu', vmin:-20, vmax:20, ticks:trendTicks, tickLabels:trendTickLabels, barLabel:'Temperature trend [°C/yr]', barLabelX:775.5, blur:'blur-l'},
  {letter:'f', col:2, row:1, title:'HAR30 vs CHELSA', grid:har30ChelsaCorr, stops:plasmaStops, grad:'grad-plasma', vmin:-100, vmax:100, ticks:corrTicks, tickLabels:corrTickLabels, barLabel:'Correlation [-]', barLabelX:1168, blur:'blur-l'},
  {letter:'g', col:0, row:2, title:'CHELSA - ERA5 annual', grid:chelsaMinusEra5, stops:rdbuStops, grad:'grad-rdbu', vmin:-10, vmax:10, ticks:tempTicks, tickLabels:tempTickLabels, barLabel:'Temperature difference [°C]', barLabelX:377.5},
  {letter:'h', col:1, row:2, title:'ERA5 annual', grid:era5Trend, stops:rdbuStops, grad:'grad-rdbu', vmin:-20, vmax:20, ticks:trendTicks, tickLabels:trendTickLabels, barLabel:'Temperature trend [°C/yr]', barLabelX:775.5, blur:'blur-l'},
  {letter:'i', col:2, row:2, title:'CHELSA vs ERA5', grid:chelsaEra5Deficit, stops:plasmaStops.slice().reverse(), grad:'grad-plasma', vmin:0, vmax:78.3, ticks:deficitTicks, tickLabels:deficitTickLabels, barLabel:'Correlation [-]', barLabelX:1174.5, inverted:true}
];

panels.forEach(function (p, i) {
  if (p.inverted) {
    const original = p.stops;
    const vmax = p.vmax;
    const grid = p.grid;
    p.stops = original.slice().reverse();
    p.vmin = -vmax;
    p.vmax = 0;
    p.grid = grid.map(function (row) { return row.map(function (v) { return -v; }); });
    p.ticks = p.ticks.map(function (v) { return -v; });
  }
  drawPanel(p, i);
});
</script>
</body>
</html>
